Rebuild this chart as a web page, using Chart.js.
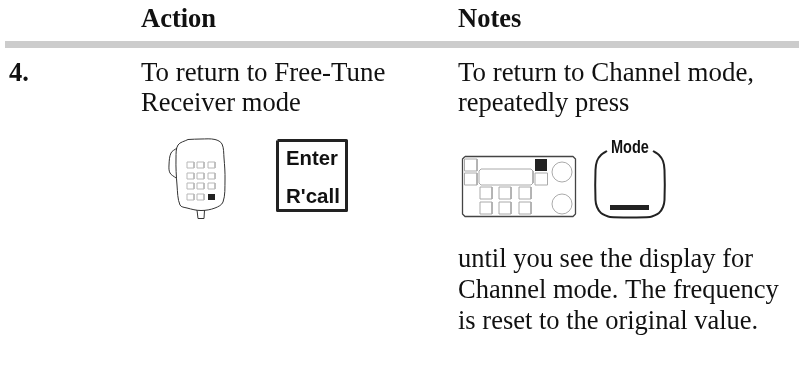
<!DOCTYPE html>
<html>
<head>
<meta charset="utf-8">
<script src="https://cdn.jsdelivr.net/npm/chart.js@4"></script>
<style>
  html, body { margin: 0; background: #fff; }
  canvas { display: block; }
</style>
</head>
<body>
<canvas id="myChart" width="799" height="392"></canvas>
<script>
// page text: [string, x, baseline y, font, optional horizontal squeeze]
const serif = '26.5px "Liberation Serif"';
const serifWide = '26.9px "Liberation Serif"';
const serifBold = 'bold 26.5px "Liberation Serif"';
const pageText = [
  ['Action', 141, 27, serifBold],
  ['Notes', 458, 27, serifBold],
  ['4.', 9, 81, serifBold],
  ['To return to Free-Tune', 141, 81, serifWide],
  ['Receiver mode', 141, 111, serif],
  ['To return to Channel mode,', 458, 81, serifWide],
  ['repeatedly press', 458, 111, serif],
  ['until you see the display for', 458, 267, serif],
  ['Channel mode. The frequency', 458, 298, serif],
  ['is reset to the original value.', 458, 329, serif],
  ['Enter', 286, 164.5, 'bold 20.3px "Liberation Sans"'],
  ["R'call", 286, 202.5, 'bold 20.5px "Liberation Sans"'],
  ['Mode', 611, 153, 'bold 17.5px "Liberation Sans"', 0.83]
];

const headerRule = [[5, 44.5], [799, 44.5]];

// hand microphone
const micBody = [[188, 139.5], [201, 139], [215, 139.5], [222, 144], [224, 158], [225, 180], [223, 202], [215, 208], [201, 210.5], [187, 208], [180, 205], [177, 185], [176, 158], [178, 145], [188, 139.5]];
const micClip = [[177, 148], [171, 153], [169, 165], [170, 173], [176, 178]];
const micStub = [[197, 210], [198, 218.5], [204, 218.5], [204.5, 210]];
const micKeyCols = [187, 197, 208];
const micKeyRows = [162, 173, 183, 194];
const micBlackKey = [[208, 197], [215, 197]];

const enterBox = [277.5, 140.5, 346.5, 210.5];

// radio front panel
const radioBody = [[465, 156.5], [573, 156.5], [575.5, 159], [575.5, 214], [573, 216.5], [465, 216.5], [462.5, 214], [462.5, 159], [465, 156.5]];
const radioDisplay = [[481, 169], [531, 169], [533, 171], [533, 183], [531, 185], [481, 185], [479, 183], [479, 171], [481, 169]];
const sideButtons = [[464.5, 159], [464.5, 173], [535, 173]];
const lowerButtonCols = [480, 499, 519];
const lowerButtonRows = [187, 202];
const radioBlackKey = [[535, 165], [547, 165]];
const radioDials = [[562, 172], [562, 204]];

// mode key
const modeKey = [[607, 151], [601, 155], [597, 161], [595.5, 170], [595.5, 200], [597, 207], [601, 213], [610, 217], [650, 217], [659, 213], [663, 207], [664.5, 200], [664.5, 170], [663, 161], [659, 155], [653, 151]];
const modeBar = [[610, 207.5], [649, 207.5]];

const toXY = pts => pts.map(p => ({ x: p[0], y: p[1] }));
const rect = (x0, y0, x1, y1) => [[x0, y0], [x1, y0], [x1, y1], [x0, y1], [x0, y0]];

function line(label, pts, color, width, tension) {
  return {
    label: label,
    data: toXY(pts),
    showLine: true,
    borderColor: color,
    borderWidth: width,
    tension: tension || 0,
    pointRadius: 0,
    borderJoinStyle: 'round'
  };
}

const datasets = [
  line('rule', headerRule, '#cccccc', 7),
  line('mic body', micBody, '#333333', 1, 0.35),
  line('mic clip', micClip, '#333333', 1, 0.35),
  line('mic stub', micStub, '#333333', 1),
  line('mic black key', micBlackKey, '#222222', 6),
  line('enter box', rect(enterBox[0], enterBox[1], enterBox[2], enterBox[3]), '#222222', 3),
  line('radio body', radioBody, '#444444', 1.3),
  line('radio display', radioDisplay, '#aaaaaa', 1),
  line('radio black key', radioBlackKey, '#222222', 12),
  line('mode key', modeKey, '#222222', 2, 0.2),
  line('mode bar', modeBar, '#222222', 5)
];

micKeyCols.forEach(x => micKeyRows.forEach(y => {
  if (x === 208 && y === 194) return;
  datasets.push(line('mic key', rect(x, y, x + 7, y + 6), '#b8b8b8', 1));
}));
sideButtons.forEach(b => {
  datasets.push(line('side button', rect(b[0], b[1], b[0] + 12.5, b[1] + 12), '#aaaaaa', 1));
});
lowerButtonCols.forEach(x => lowerButtonRows.forEach(y => {
  datasets.push(line('lower button', rect(x, y, x + 12, y + 12), '#aaaaaa', 1));
}));
datasets.push({
  label: 'dials',
  data: toXY(radioDials),
  showLine: false,
  pointStyle: 'circle',
  pointRadius: 10,
  pointBorderWidth: 1,
  pointBorderColor: '#aaaaaa',
  pointBackgroundColor: 'transparent'
});

const textPlugin = {
  id: 'pageText',
  afterDraw(chart) {
    const c = chart.ctx;
    c.fillStyle = '#111111';
    c.textBaseline = 'alphabetic';
    pageText.forEach(t => {
      c.save();
      c.font = t[3];
      c.translate(chart.scales.x.getPixelForValue(t[1]), chart.scales.y.getPixelForValue(t[2]));
      c.scale(t[4] || 1, 1);
      c.fillText(t[0], 0, 0);
      c.restore();
    });
  }
};

new Chart(document.getElementById('myChart').getContext('2d'), {
  type: 'scatter',
  data: { datasets: datasets },
  plugins: [textPlugin],
  options: {
    responsive: false,
    animation: false,
    layout: { padding: 0, autoPadding: false },
    plugins: { legend: { display: false }, tooltip: { enabled: false } },
    scales: {
      x: { type: 'linear', min: 0, max: 799, display: false },
      y: { type: 'linear', min: 0, max: 392, reverse: true, display: false }
    }
  }
});
</script>
</body>
</html>
